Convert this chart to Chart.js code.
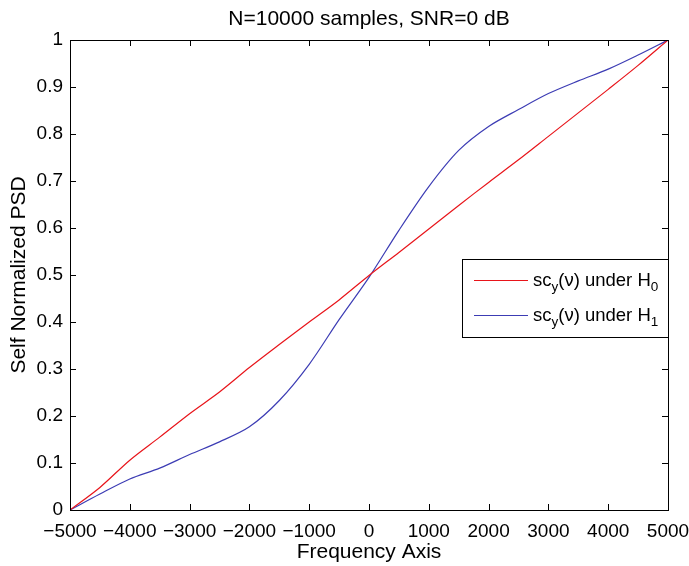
<!DOCTYPE html>
<html>
<head>
<meta charset="utf-8">
<script src="https://cdn.jsdelivr.net/npm/chart.js@4.4.0/dist/chart.umd.min.js"></script>
<style>
html,body{margin:0;padding:0;background:#fff;}
#wrap{width:689px;height:566px;}
</style>
</head>
<body>
<div id="wrap"><canvas id="c" width="689" height="566"></canvas></div>
<script>
const freq = [-5000,-4500,-4000,-3500,-3000,-2500,-2000,-1500,-1000,-500,0,500,1000,1500,2000,2500,3000,3500,4000,4500,5000];
const h0 = [0,0.048,0.106,0.155,0.205,0.251,0.303,0.352,0.400,0.447,0.499,0.548,0.598,0.648,0.697,0.745,0.795,0.845,0.895,0.946,1];
const h1 = [0,0.034,0.066,0.089,0.118,0.145,0.177,0.233,0.310,0.405,0.495,0.595,0.688,0.765,0.816,0.852,0.886,0.913,0.938,0.968,1];
const xTicks = [-5000,-4000,-3000,-2000,-1000,0,1000,2000,3000,4000,5000];
const yTicks = [0,0.1,0.2,0.3,0.4,0.5,0.6,0.7,0.8,0.9,1];
const titleText = 'N=10000 samples, SNR=0 dB';
const xTitle = 'Frequency Axis';
const yTitle = 'Self Normalized PSD';
const redC = '#e8141a';
const blueC = '#3c3cb4';
const FONT = '"Liberation Sans", Arial, Helvetica, sans-serif';

function zeroPad(s) { s.paddingLeft = 0; s.paddingRight = 0; s.paddingTop = 0; s.paddingBottom = 0; }

const frame = {
  id: 'frame',
  afterDatasetsDraw(chart) {
    const {ctx, chartArea: a, scales: {x, y}} = chart;
    ctx.save();
    ctx.strokeStyle = '#000';
    ctx.lineWidth = 1;
    ctx.beginPath();
    const tl = 6;
    x.ticks.forEach(t => {
      const px = Math.round(x.getPixelForValue(t.value)) + 0.5;
      ctx.moveTo(px, a.bottom); ctx.lineTo(px, a.bottom - tl);
      ctx.moveTo(px, a.top); ctx.lineTo(px, a.top + tl);
    });
    y.ticks.forEach(t => {
      const py = Math.round(y.getPixelForValue(t.value)) + 0.5;
      ctx.moveTo(a.left, py); ctx.lineTo(a.left + tl, py);
      ctx.moveTo(a.right, py); ctx.lineTo(a.right - tl, py);
    });
    ctx.stroke();
    ctx.strokeRect(Math.round(a.left)+0.5, Math.round(a.top)+0.5, Math.round(a.right-a.left), Math.round(a.bottom-a.top));

    // legend
    const lx = 462.5, ly = 259.5, lw = Math.round(a.right) - 462, lh = 78;
    ctx.fillStyle = '#fff';
    ctx.fillRect(lx, ly, lw, lh);
    ctx.strokeRect(lx, ly, lw, lh);
    const items = [
      {c: redC, sub: '0', yy: 280},
      {c: blueC, sub: '1', yy: 315}
    ];
    items.forEach(it => {
      ctx.strokeStyle = it.c;
      ctx.beginPath();
      ctx.moveTo(474, it.yy + 0.5); ctx.lineTo(528, it.yy + 0.5);
      ctx.stroke();
      ctx.fillStyle = '#000';
      ctx.textBaseline = 'alphabetic';
      ctx.textAlign = 'left';
      let px = 533;
      const base = it.yy + 5.5;
      const big = '18.5px ' + FONT, small = '13.5px ' + FONT;
      ctx.font = big; ctx.fillText('sc', px, base); px += ctx.measureText('sc').width;
      ctx.font = small; ctx.fillText('y', px, base + 5); px += ctx.measureText('y').width;
      ctx.font = big; const s = '(\u03bd) under H'; ctx.fillText(s, px, base); px += ctx.measureText(s).width;
      ctx.font = small; ctx.fillText(it.sub, px, base + 5);
    });
    ctx.restore();
  }
};

new Chart(document.getElementById('c'), {
  type: 'line',
  data: {
    datasets: [
      {label: 'H0', data: freq.map((f,i)=>({x:f,y:h0[i]})), borderColor: redC, borderWidth: 1.2, pointRadius: 0, tension: 0.3, fill: false},
      {label: 'H1', data: freq.map((f,i)=>({x:f,y:h1[i]})), borderColor: blueC, borderWidth: 1.2, pointRadius: 0, tension: 0.3, fill: false}
    ]
  },
  options: {
    responsive: false,
    animation: false,
    events: [],
    layout: {padding: {top: 0, right: 21, left: 0, bottom: 0}},
    plugins: {
      legend: {display: false},
      tooltip: {enabled: false},
      title: {
        display: true, text: titleText, fullSize: false, color: '#000',
        font: {family: FONT, size: 21, weight: 'normal', lineHeight: 1.2},
        padding: {top: 6.8, bottom: 8}
      }
    },
    scales: {
      x: {
        type: 'linear', min: -5000, max: 5000,
        afterBuildTicks: s => { s.ticks = xTicks.map(v => ({value: v})); },
        afterFit: s => { s.height = 56; zeroPad(s); },
        grid: {display: false, drawTicks: false},
        border: {display: false},
        ticks: {
          color: '#000', padding: 10, maxRotation: 0, autoSkip: false,
          font: {family: FONT, size: 19},
          callback: v => String(v).replace('-', '\u2212')
        },
        title: {display: true, text: xTitle, color: '#000', font: {family: FONT, size: 21}, padding: {top: 0, bottom: 0.7}}
      },
      y: {
        type: 'linear', min: 0, max: 1,
        afterBuildTicks: s => { s.ticks = yTicks.map(v => ({value: v})); },
        afterFit: s => { s.width = 70; zeroPad(s); },
        grid: {display: false, drawTicks: false},
        border: {display: false},
        ticks: {
          color: '#000', padding: 7, autoSkip: false,
          font: {family: FONT, size: 19},
          callback: v => String(parseFloat(Number(v).toFixed(1)))
        },
        title: {display: true, text: yTitle, color: '#000', font: {family: FONT, size: 21}, padding: {top: 6.8, bottom: 0}}
      }
    }
  },
  plugins: [frame]
});
</script>
</body>
</html>
